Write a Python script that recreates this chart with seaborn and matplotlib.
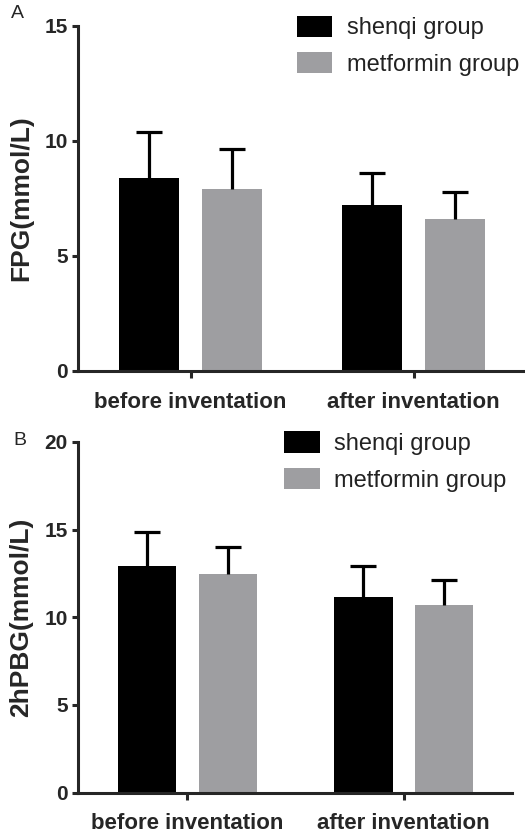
import numpy as np
import pandas as pd
import seaborn as sns
import matplotlib.pyplot as plt

# data
times = ['before inventation', 'after inventation']
groups = ['shenqi group', 'metformin group']

fpg_shenqi = [8.4, 7.2]
fpg_shenqi_sd = [2.0, 1.4]
fpg_metformin = [7.9, 6.6]
fpg_metformin_sd = [1.75, 1.17]

pbg_shenqi = [12.9, 11.15]
pbg_shenqi_sd = [1.95, 1.75]
pbg_metformin = [12.45, 10.7]
pbg_metformin_sd = [1.55, 1.4]

colors = ['black', '#9d9da1']

sns.set_style('ticks')
plt.rcParams['font.family'] = ['Liberation Sans', 'DejaVu Sans']


def panel(ax, shenqi, shenqi_sd, metformin, metformin_sd, ylabel, ymax,
          letter, letter_y, leg_xy, lab_x):
    df = pd.DataFrame({
        'time': times + times,
        'group': [groups[0]] * 2 + [groups[1]] * 2,
        'value': shenqi + metformin,
    })
    sns.barplot(data=df, x='time', y='value', hue='group', order=times,
                hue_order=groups, palette=colors, width=0.745, gap=0.28,
                errorbar=None, edgecolor='none', linewidth=0, ax=ax)
    for cont, sds in zip(ax.containers, [shenqi_sd, metformin_sd]):
        xs = [b.get_x() + b.get_width() / 2 for b in cont]
        ys = [b.get_height() for b in cont]
        _, caps, _ = ax.errorbar(xs, ys, yerr=[[0] * len(sds), sds], fmt='none',
                                 ecolor='black', elinewidth=2.3, capsize=9.4,
                                 capthick=2.3, zorder=1)
        caps[0].set_visible(False)  # only the upper cap
    ax.set_ylim(0, ymax)
    ax.set_yticks(np.arange(0, ymax + 1, 5))
    ax.set_xlim(-0.505, 1.5)
    sns.despine(ax=ax)
    for s in ['left', 'bottom']:
        ax.spines[s].set_linewidth(2.2)
    ax.tick_params(axis='y', width=2.2, length=4.3, pad=3, labelsize=15)
    ax.tick_params(axis='x', width=2.2, length=5, pad=10, labelsize=16)
    for t in ax.get_xticklabels() + ax.get_yticklabels():
        t.set_fontweight('bold')
    ax.set_xlabel('')
    ax.set_ylabel(ylabel, fontsize=19, fontweight='bold')
    ax.yaxis.set_label_coords(lab_x, 0.5)
    ax.text(-0.15, letter_y, letter, transform=ax.transAxes, fontsize=14,
            ha='left', va='center')
    h, l = ax.get_legend_handles_labels()
    ax.legend(h, l, loc='upper left', bbox_to_anchor=leg_xy, frameon=False,
              fontsize=17, handlelength=1.5, handleheight=1.0,
              handletextpad=0.6, labelspacing=0.55, borderpad=0,
              borderaxespad=0, labelcolor='#222222')


fig = plt.figure(figsize=(5.25, 8.35), dpi=100)
ax1 = fig.add_axes([0.1486, 0.5557, 0.8514, 0.4132])
ax2 = fig.add_axes([0.1486, 0.0507, 0.8267, 0.4200])

panel(ax1, fpg_shenqi, fpg_shenqi_sd, fpg_metformin, fpg_metformin_sd,
      'FPG(mmol/L)', 15, 'A', 1.035, (0.49, 1.03), -0.10)
panel(ax2, pbg_shenqi, pbg_shenqi_sd, pbg_metformin, pbg_metformin_sd,
      '2hPBG(mmol/L)', 20, 'B', 1.005, (0.475, 1.03), -0.104)

fig.savefig('out.png', dpi=100, facecolor='w')
